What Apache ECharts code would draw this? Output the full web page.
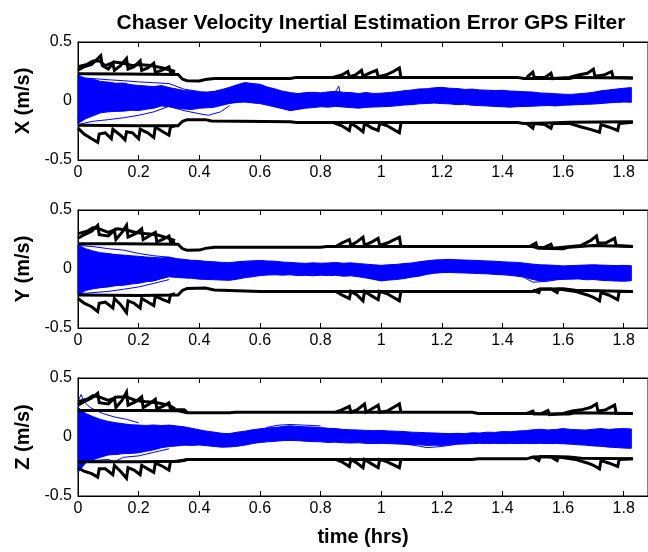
<!DOCTYPE html>
<html><head><meta charset="utf-8">
<script src="https://cdn.jsdelivr.net/npm/echarts@6/dist/echarts.min.js"></script>
<style>html,body{margin:0;padding:0;background:#fff}#c{width:648px;height:552px}</style>
</head><body><div id="c"></div>
<script>
// ---------- DATA ----------
const chartTitle = 'Chaser Velocity Inertial Estimation Error GPS Filter';
const panelNames = ['X (m/s)', 'Y (m/s)', 'Z (m/s)'];
const xAxisTitle = 'time (hrs)';
const xTickStep = 0.2;   // ticks 0 … 1.8
const yTickStep = 0.5;   // ticks -0.5, 0, 0.5

// time samples of the blue Monte-Carlo band (hrs)
const T = [0,0.025,0.05,0.075,0.1,0.125,0.15,0.175,0.2,0.225,0.25,0.275,0.3,0.325,0.35,0.375,0.4,0.425,0.45,0.475,
  0.5,0.525,0.55,0.575,0.6,0.625,0.65,0.675,0.7,0.725,0.75,0.775,0.8,0.825,0.85,0.875,0.9,0.925,0.95,0.975,
  1,1.025,1.05,1.075,1.1,1.125,1.15,1.175,1.2,1.225,1.25,1.275,1.3,1.325,1.35,1.375,1.4,1.425,1.45,1.475,
  1.5,1.525,1.55,1.575,1.6,1.625,1.65,1.675,1.7,1.725,1.75,1.775,1.8,1.825];

// X panel: upper / lower edge of the blue band
const xBandHi = [0.22,0.19,0.185,0.165,0.16,0.15,0.152,0.138,0.132,0.127,0.122,0.131,0.114,0.102,0.088,0.086,0.078,0.076,0.082,0.098,
  0.116,0.138,0.156,0.148,0.142,0.118,0.102,0.083,0.072,0.063,0.071,0.074,0.069,0.077,0.082,0.074,0.071,0.063,0.072,0.064,
  0.066,0.072,0.078,0.087,0.093,0.102,0.104,0.112,0.116,0.108,0.106,0.098,0.101,0.094,0.092,0.088,0.091,0.084,0.082,0.078,
  0.076,0.068,0.066,0.061,0.058,0.056,0.061,0.066,0.074,0.086,0.094,0.101,0.108,0.114];
const xBandLo = [-0.19,-0.15,-0.125,-0.1,-0.092,-0.088,-0.086,-0.078,-0.081,-0.07,-0.061,-0.042,-0.048,-0.062,-0.068,-0.072,-0.061,-0.058,-0.052,-0.036,
  -0.021,-0.012,-0.009,-0.016,-0.022,-0.036,-0.051,-0.066,-0.082,-0.071,-0.061,-0.056,-0.049,-0.052,-0.046,-0.051,-0.056,-0.061,-0.054,-0.051,
  -0.049,-0.046,-0.041,-0.034,-0.031,-0.024,-0.021,-0.018,-0.022,-0.024,-0.031,-0.028,-0.036,-0.039,-0.042,-0.046,-0.049,-0.052,-0.048,-0.046,
  -0.044,-0.041,-0.038,-0.042,-0.036,-0.034,-0.031,-0.028,-0.026,-0.021,-0.016,-0.012,-0.009,-0.011];

// Y panel
const yBandHi = [0.2,0.172,0.152,0.138,0.131,0.122,0.118,0.112,0.108,0.101,0.098,0.094,0.101,0.088,0.081,0.074,0.071,0.064,0.061,0.056,
  0.054,0.061,0.066,0.069,0.072,0.068,0.066,0.059,0.056,0.051,0.048,0.052,0.049,0.051,0.056,0.049,0.052,0.046,0.041,0.036,
  0.031,0.036,0.039,0.046,0.051,0.061,0.069,0.076,0.079,0.082,0.078,0.076,0.074,0.071,0.068,0.066,0.061,0.058,0.056,0.049,
  0.041,0.036,0.034,0.031,0.026,0.029,0.031,0.034,0.036,0.033,0.031,0.029,0.031,0.028];
const yBandLo = [-0.22,-0.182,-0.168,-0.158,-0.152,-0.141,-0.138,-0.128,-0.121,-0.108,-0.101,-0.082,-0.066,-0.071,-0.076,-0.079,-0.086,-0.089,-0.091,-0.094,
  -0.096,-0.086,-0.074,-0.066,-0.056,-0.051,-0.049,-0.052,-0.049,-0.056,-0.054,-0.057,-0.053,-0.056,-0.054,-0.061,-0.058,-0.066,-0.076,-0.088,
  -0.101,-0.094,-0.089,-0.081,-0.069,-0.061,-0.046,-0.036,-0.031,-0.029,-0.032,-0.034,-0.036,-0.039,-0.041,-0.046,-0.049,-0.054,-0.061,-0.071,
  -0.089,-0.101,-0.096,-0.091,-0.088,-0.086,-0.084,-0.091,-0.089,-0.096,-0.099,-0.102,-0.104,-0.099];

// Z panel
const zBandHi = [0.25,0.2,0.172,0.148,0.132,0.121,0.112,0.104,0.101,0.098,0.102,0.097,0.101,0.094,0.086,0.074,0.061,0.049,0.041,0.031,
  0.029,0.041,0.049,0.061,0.069,0.076,0.081,0.088,0.096,0.089,0.086,0.084,0.081,0.074,0.071,0.064,0.061,0.059,0.056,0.054,
  0.056,0.051,0.049,0.046,0.041,0.039,0.036,0.034,0.031,0.029,0.031,0.029,0.036,0.034,0.041,0.039,0.046,0.044,0.051,0.054,
  0.061,0.066,0.059,0.064,0.071,0.064,0.061,0.059,0.066,0.071,0.064,0.069,0.071,0.068];
const zBandLo = [-0.3,-0.22,-0.192,-0.171,-0.152,-0.148,-0.141,-0.139,-0.134,-0.121,-0.109,-0.091,-0.081,-0.076,-0.069,-0.071,-0.068,-0.074,-0.081,-0.086,
  -0.084,-0.079,-0.069,-0.056,-0.046,-0.041,-0.036,-0.031,-0.029,-0.031,-0.036,-0.039,-0.041,-0.046,-0.044,-0.049,-0.051,-0.049,-0.054,-0.056,
  -0.054,-0.056,-0.059,-0.061,-0.064,-0.066,-0.071,-0.069,-0.071,-0.066,-0.061,-0.059,-0.056,-0.054,-0.056,-0.054,-0.056,-0.054,-0.056,-0.054,
  -0.056,-0.054,-0.056,-0.055,-0.057,-0.061,-0.066,-0.069,-0.076,-0.079,-0.086,-0.089,-0.094,-0.096];

// a few single Monte-Carlo runs visible outside the band
const xOutliers = [
  [[0,0.2],[0.05,0.19],[0.1,0.18],[0.15,0.172],[0.2,0.162],[0.25,0.155],[0.3,0.148],[0.35,0.1],[0.4,0.08]],
  [[0,-0.2],[0.05,-0.172],[0.1,-0.158],[0.15,-0.142],[0.2,-0.121],[0.25,-0.092],[0.3,-0.045],[0.35,-0.082],[0.4,-0.108],[0.43,-0.121],[0.47,-0.092],[0.5,-0.04]],
  [[0.845,0.06],[0.86,0.125],[0.866,0.05]]
];
const yOutliers = [
  [[0,0.2],[0.05,0.19],[0.1,0.172],[0.15,0.16],[0.2,0.132],[0.25,0.112],[0.3,0.1]],
  [[0,-0.21],[0.05,-0.2],[0.1,-0.19],[0.15,-0.172],[0.2,-0.152],[0.25,-0.122],[0.3,-0.09]],
  [[1.47,-0.07],[1.5,-0.112],[1.55,-0.104],[1.58,-0.09]]
];
const zOutliers = [
  [[0,0.3],[0.01,0.36],[0.02,0.3],[0.04,0.25],[0.08,0.2],[0.12,0.17],[0.16,0.15],[0.2,0.12]],
  [[0,-0.22],[0.05,-0.2],[0.1,-0.19],[0.12,-0.21],[0.15,-0.172],[0.2,-0.16],[0.25,-0.13],[0.3,-0.1]],
  [[0.62,0.08],[0.66,0.1],[0.7,0.106],[0.75,0.1],[0.8,0.094]],
  [[1.08,-0.06],[1.12,-0.075],[1.15,-0.09],[1.2,-0.08],[1.24,-0.065]]
];

// black 3-sigma bounds: flat part and saw-tooth part ('-' = gap)
const xUpBase = [[0,0.23],[0.15,0.228],[0.33,0.225],[0.345,0.185],[0.36,0.172],[0.4,0.17],[0.42,0.182],[0.45,0.19],[0.7,0.19],[0.72,0.2],[1.45,0.2],[1.47,0.19],[1.62,0.19],[1.64,0.2],[1.83,0.195]];
const xUpSaw = [[0,0.26],[0.02,0.29],[0.045,0.31],[0.065,0.36],[0.075,0.385],[0.08,0.3],[0.1,0.27],[0.115,0.32],[0.12,0.26],[0.14,0.3],[0.16,0.36],[0.165,0.27],[0.185,0.29],[0.205,0.34],[0.21,0.26],[0.23,0.28],[0.25,0.32],[0.255,0.24],[0.275,0.26],[0.3,0.29],[0.305,0.24],[0.32,0.235],['-','-'],
  [0.84,0.2],[0.87,0.22],[0.89,0.25],[0.895,0.205],[0.915,0.22],[0.935,0.26],[0.94,0.21],[0.965,0.24],[0.985,0.26],[0.99,0.205],[1.015,0.22],[1.04,0.25],[1.06,0.28],[1.065,0.2],['-','-'],
  [1.48,0.2],[1.5,0.245],[1.505,0.2],[1.54,0.2],[1.56,0.235],[1.565,0.19],[1.62,0.2],[1.65,0.22],[1.68,0.235],[1.7,0.27],[1.705,0.21],[1.735,0.22],[1.76,0.25],[1.765,0.2],[1.83,0.195]];
const xUpSaw2 = [[0,0.29],[0.03,0.31],[0.05,0.34],[0.07,0.34],[0.09,0.3],[0.12,0.33],[0.15,0.32],[0.18,0.3],[0.2,0.31],[0.24,0.3],[0.28,0.28],[0.32,0.25]];
const xLoBase = [[0,-0.205],[0.2,-0.21],[0.33,-0.21],[0.345,-0.172],[0.36,-0.158],[0.42,-0.158],[0.44,-0.17],[0.7,-0.175],[0.72,-0.182],[1.45,-0.182],[1.47,-0.19],[1.55,-0.186],[1.62,-0.18],[1.83,-0.176]];
const xLoSaw = [[0,-0.23],[0.02,-0.28],[0.045,-0.32],[0.065,-0.35],[0.07,-0.28],[0.09,-0.27],[0.11,-0.32],[0.115,-0.24],[0.14,-0.29],[0.155,-0.33],[0.16,-0.26],[0.18,-0.27],[0.2,-0.32],[0.205,-0.24],[0.23,-0.27],[0.25,-0.31],[0.255,-0.22],[0.28,-0.26],[0.3,-0.29],[0.305,-0.22],[0.32,-0.21],['-','-'],
  [0.84,-0.18],[0.87,-0.21],[0.895,-0.25],[0.9,-0.19],[0.92,-0.22],[0.94,-0.26],[0.945,-0.19],[0.97,-0.23],[0.99,-0.25],[0.995,-0.19],[1.02,-0.21],[1.06,-0.27],[1.065,-0.19],['-','-'],
  [1.48,-0.19],[1.5,-0.23],[1.505,-0.19],[1.54,-0.2],[1.56,-0.23],[1.565,-0.19],[1.62,-0.19],[1.66,-0.22],[1.69,-0.24],[1.72,-0.265],[1.725,-0.2],[1.75,-0.22],[1.78,-0.25],[1.785,-0.19],[1.83,-0.18]];

const yUpBase = [[0,0.215],[0.15,0.215],[0.33,0.21],[0.345,0.172],[0.36,0.158],[0.4,0.16],[0.42,0.175],[0.45,0.185],[0.8,0.185],[0.82,0.19],[1.5,0.19],[1.52,0.175],[1.6,0.172],[1.62,0.185],[1.7,0.2],[1.83,0.19]];
const yUpSaw = [[0,0.26],[0.02,0.29],[0.045,0.32],[0.065,0.37],[0.07,0.29],[0.1,0.28],[0.12,0.33],[0.125,0.25],[0.145,0.31],[0.16,0.37],[0.165,0.27],[0.19,0.3],[0.21,0.34],[0.215,0.25],[0.235,0.28],[0.255,0.31],[0.26,0.23],[0.28,0.25],[0.3,0.28],[0.305,0.23],[0.32,0.22],['-','-'],
  [0.85,0.19],[0.87,0.22],[0.895,0.25],[0.9,0.2],[0.92,0.23],[0.94,0.27],[0.945,0.2],[0.97,0.23],[0.99,0.26],[0.995,0.2],[1.02,0.22],[1.06,0.27],[1.065,0.19],['-','-'],
  [1.49,0.19],[1.51,0.22],[1.515,0.18],[1.54,0.185],[1.56,0.21],[1.565,0.175],[1.66,0.2],[1.69,0.24],[1.71,0.28],[1.715,0.22],[1.74,0.22],[1.77,0.26],[1.775,0.2],[1.83,0.19]];
const yUpSaw2 = [[0,0.3],[0.03,0.32],[0.05,0.35],[0.07,0.34],[0.1,0.31],[0.13,0.34],[0.16,0.33],[0.19,0.31],[0.22,0.3],[0.26,0.29],[0.3,0.26],[0.32,0.24]];
const yLoBase = [[0,-0.22],[0.2,-0.225],[0.33,-0.22],[0.345,-0.18],[0.36,-0.165],[0.42,-0.162],[0.45,-0.178],[0.6,-0.19],[1.5,-0.19],[1.52,-0.172],[1.6,-0.168],[1.64,-0.18],[1.83,-0.19]];
const yLoSaw = [[0,-0.25],[0.02,-0.29],[0.045,-0.32],[0.065,-0.36],[0.07,-0.29],[0.09,-0.28],[0.115,-0.33],[0.12,-0.25],[0.14,-0.3],[0.16,-0.37],[0.165,-0.27],[0.185,-0.29],[0.205,-0.33],[0.21,-0.25],[0.23,-0.28],[0.25,-0.31],[0.255,-0.23],[0.28,-0.26],[0.3,-0.28],[0.305,-0.22],[0.32,-0.21],['-','-'],
  [0.85,-0.19],[0.87,-0.22],[0.895,-0.25],[0.9,-0.19],[0.92,-0.22],[0.94,-0.27],[0.945,-0.19],[0.97,-0.23],[0.99,-0.26],[0.995,-0.19],[1.02,-0.21],[1.06,-0.27],[1.065,-0.19],['-','-'],
  [1.5,-0.18],[1.52,-0.2],[1.525,-0.17],[1.56,-0.17],[1.58,-0.2],[1.585,-0.17],[1.64,-0.19],[1.68,-0.22],[1.7,-0.24],[1.72,-0.27],[1.725,-0.2],[1.75,-0.22],[1.78,-0.26],[1.785,-0.19],[1.83,-0.19]];

const zUpBase = [[0,0.225],[0.2,0.225],[0.33,0.222],[0.36,0.205],[0.5,0.205],[0.52,0.21],[1.3,0.21],[1.32,0.2],[1.5,0.2],[1.52,0.195],[1.62,0.195],[1.64,0.205],[1.83,0.2]];
const zUpSaw = [[0,0.27],[0.02,0.3],[0.045,0.33],[0.065,0.37],[0.07,0.29],[0.1,0.28],[0.12,0.33],[0.125,0.25],[0.145,0.31],[0.16,0.38],[0.165,0.27],[0.19,0.3],[0.21,0.34],[0.215,0.25],[0.235,0.28],[0.255,0.32],[0.26,0.24],[0.28,0.26],[0.3,0.29],[0.305,0.235],[0.32,0.23],[0.35,0.23],[0.36,0.21],['-','-'],
  [0.85,0.21],[0.87,0.23],[0.895,0.26],[0.9,0.21],[0.92,0.23],[0.945,0.28],[0.95,0.21],[0.97,0.24],[0.99,0.27],[0.995,0.21],[1.02,0.22],[1.06,0.28],[1.065,0.21],['-','-'],
  [1.48,0.2],[1.5,0.22],[1.505,0.195],[1.53,0.2],[1.55,0.225],[1.555,0.19],[1.6,0.2],[1.63,0.22],[1.66,0.23],[1.69,0.25],[1.71,0.28],[1.715,0.22],[1.74,0.23],[1.77,0.27],[1.775,0.2],[1.83,0.2]];
const zUpSaw2 = [[0,0.3],[0.03,0.32],[0.05,0.35],[0.07,0.34],[0.1,0.31],[0.13,0.34],[0.16,0.34],[0.19,0.31],[0.22,0.3],[0.26,0.29],[0.3,0.27],[0.32,0.24]];
const zLoBase = [[0,-0.21],[0.2,-0.21],[0.33,-0.205],[0.36,-0.19],[1.3,-0.19],[1.32,-0.185],[1.48,-0.185],[1.5,-0.17],[1.56,-0.165],[1.62,-0.17],[1.66,-0.18],[1.83,-0.185]];
const zLoSaw = [[0,-0.26],[0.02,-0.29],[0.045,-0.31],[0.065,-0.34],[0.07,-0.27],[0.09,-0.27],[0.115,-0.32],[0.12,-0.24],[0.14,-0.29],[0.16,-0.35],[0.165,-0.26],[0.185,-0.28],[0.205,-0.32],[0.21,-0.24],[0.23,-0.27],[0.25,-0.3],[0.255,-0.22],[0.28,-0.25],[0.3,-0.28],[0.305,-0.21],[0.35,-0.2],[0.36,-0.19],['-','-'],
  [0.85,-0.19],[0.87,-0.21],[0.895,-0.25],[0.9,-0.19],[0.92,-0.22],[0.94,-0.26],[0.945,-0.19],[0.97,-0.23],[0.99,-0.26],[0.995,-0.19],[1.02,-0.21],[1.06,-0.26],[1.065,-0.19],['-','-'],
  [1.5,-0.17],[1.52,-0.2],[1.525,-0.165],[1.56,-0.17],[1.58,-0.2],[1.585,-0.17],[1.64,-0.19],[1.68,-0.22],[1.7,-0.24],[1.72,-0.27],[1.725,-0.2],[1.75,-0.22],[1.78,-0.25],[1.785,-0.19],[1.83,-0.185]];

// ---------- BUILD ----------
const panels = [
  {hi: xBandHi, lo: xBandLo, out: xOutliers, black: [xUpBase, xUpSaw, xUpSaw2, xLoBase, xLoSaw]},
  {hi: yBandHi, lo: yBandLo, out: yOutliers, black: [yUpBase, yUpSaw, yUpSaw2, yLoBase, yLoSaw]},
  {hi: zBandHi, lo: zBandLo, out: zOutliers, black: [zUpBase, zUpSaw, zUpSaw2, zLoBase, zLoSaw]}
];

const FONT = '"Liberation Sans", Arial, Helvetica, sans-serif';
const BLUE = '#0000ff';
const plotLeft = 78, plotWidth = 576, plotHeight = 118;
const plotTops = [42, 210, 378];
const xMax = 1.88;

const grid = [], xAxis = [], yAxis = [], series = [];
panels.forEach((p, i) => {
  grid.push({left: plotLeft, top: plotTops[i], width: plotWidth, height: plotHeight,
    show: true, borderColor: '#000', borderWidth: 1, backgroundColor: '#fff'});
  xAxis.push({type: 'value', gridIndex: i, min: 0, max: xMax, interval: xTickStep, position: 'bottom',
    splitLine: {show: false},
    axisLine: {show: true, onZero: false, lineStyle: {color: '#000', width: 1}},
    axisTick: {show: true, inside: true, length: 5, lineStyle: {color: '#000'}},
    axisLabel: {show: true, color: '#000', fontSize: 16, fontFamily: FONT, margin: 5, showMaxLabel: false},
    name: i === 2 ? xAxisTitle : '', nameLocation: 'middle', nameGap: 31,
    nameTextStyle: {color: '#000', fontSize: 20, fontWeight: 'bold', fontFamily: FONT}});
  yAxis.push({type: 'value', gridIndex: i, min: -0.5, max: 0.5, interval: yTickStep,
    splitLine: {show: false},
    axisLine: {show: true, onZero: false, lineStyle: {color: '#000', width: 1}},
    axisTick: {show: true, inside: true, length: 5, lineStyle: {color: '#000'}},
    axisLabel: {color: '#000', fontSize: 16, fontFamily: FONT, margin: 6},
    name: panelNames[i], nameLocation: 'middle', nameGap: 45, nameRotate: 90,
    nameTextStyle: {color: '#000', fontSize: 20, fontWeight: 'bold', fontFamily: FONT}});
});
panels.forEach((p, i) => {
  xAxis.push({type: 'value', gridIndex: i, min: 0, max: xMax, interval: xTickStep, position: 'top',
    splitLine: {show: false}, axisLabel: {show: false},
    axisLine: {show: true, onZero: false, lineStyle: {color: '#000', width: 1}},
    axisTick: {show: true, inside: true, length: 5, lineStyle: {color: '#000'}}});
});

panels.forEach((p, i) => {
  // blue band: polygon between the upper and lower edges, placed with api.coord
  const hi = p.hi, lo = p.lo;
  series.push({type: 'custom', xAxisIndex: i, yAxisIndex: i, silent: true, z: 2,
    data: T.map((t, k) => [t, lo[k], hi[k]]),
    encode: {x: 0, y: [1, 2]},
    renderItem: function (params, api) {
      if (params.dataIndex !== 0) return null;
      const pts = [];
      for (let k = 0; k < T.length; k++) pts.push(api.coord([T[k], hi[k]]));
      for (let k = T.length - 1; k >= 0; k--) pts.push(api.coord([T[k], lo[k]]));
      return {type: 'polygon', shape: {points: pts},
        style: {fill: BLUE, stroke: BLUE, lineWidth: 1}};
    }});
  p.out.forEach(o => series.push({type: 'line', xAxisIndex: i, yAxisIndex: i, silent: true,
    showSymbol: false, z: 3, lineStyle: {color: BLUE, width: 1}, data: o}));
  p.black.forEach(b => series.push({type: 'line', xAxisIndex: i, yAxisIndex: i, silent: true,
    showSymbol: false, z: 5, connectNulls: false, lineStyle: {color: '#000', width: 3, join: 'miter'}, data: b}));
});

const chart = echarts.init(document.getElementById('c'), null, {renderer: 'canvas'});
chart.setOption({
  animation: false,
  backgroundColor: '#fff',
  title: {text: chartTitle, left: 366, top: 8, textAlign: 'center',
    textStyle: {color: '#000', fontSize: 21, fontWeight: 'bold', fontFamily: FONT}},
  grid, xAxis, yAxis, series
});
</script></body></html>
